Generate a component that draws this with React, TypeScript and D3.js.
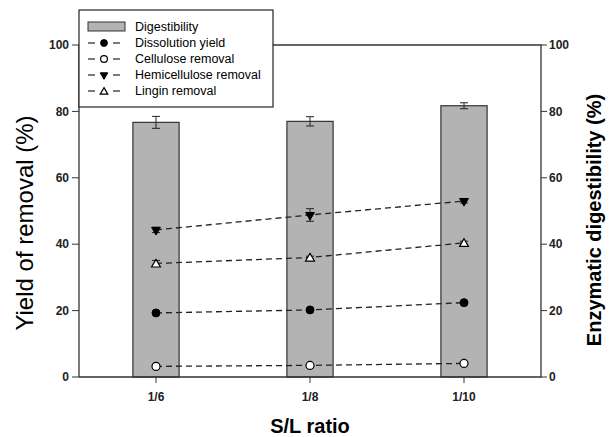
import * as d3 from 'd3';

const ratios = ['1/6', '1/8', '1/10'];
const digestibility = [76.7, 77.0, 81.7];
const digestibilityErr = [1.8, 1.4, 0.9];
const dissolution = [19.3, 20.2, 22.4];
const cellulose = [3.2, 3.5, 4.1];
const hemicellulose = [44.3, 48.8, 53.0];
const hemicelluloseErr = [0.8, 1.9, 0.6];
const lignin = [34.2, 36.0, 40.4];
const ligninErr = [0.9, 0.4, 0.5];
const yTicks = [0, 20, 40, 60, 80, 100];

const font = 'Liberation Sans, Arial, sans-serif';
const ink = '#222';

type Shape = 'dot' | 'circle' | 'down' | 'up';

const Marker = ({ x, y, shape, k = 1 }: { x: number; y: number; shape: Shape; k?: number }) => {
	if (shape === 'dot') return <circle cx={x} cy={y} r={4 * k} fill="#000" stroke="#000" />;
	if (shape === 'circle') return <circle cx={x} cy={y} r={4 * k} fill="#fff" stroke="#000" strokeWidth={1.2} />;
	const s = d3.symbol().type(d3.symbolTriangle).size(34 * k * k)();
	if (shape === 'down') return <path d={s as string} transform={`translate(${x},${y}) rotate(180)`} fill="#000" stroke="#000" />;
	return <path d={s as string} transform={`translate(${x},${y + 1})`} fill="#fff" stroke="#000" strokeWidth={1.2} />;
};

export default function App() {
	const margin = { left: 79, right: 70, top: 45, bottom: 60 };
	const width = 611;
	const height = 437;
	const x = d3.scaleBand().domain(ratios).range([margin.left, width - margin.right]);
	const y = d3.scaleLinear().domain([0, 100]).range([height - margin.bottom, margin.top]);
	const barW = x.bandwidth() * 0.3;
	const cx = (r: string) => (x(r) as number) + x.bandwidth() / 2;

	const series: { name: string; values: number[]; err?: number[]; shape: Shape }[] = [
		{ name: 'Dissolution yield', values: dissolution, shape: 'dot' },
		{ name: 'Cellulose removal', values: cellulose, shape: 'circle' },
		{ name: 'Hemicellulose removal', values: hemicellulose, err: hemicelluloseErr, shape: 'down' },
		{ name: 'Lingin removal', values: lignin, err: ligninErr, shape: 'up' },
	];

	const line = d3
		.line<number>()
		.x((d, i) => cx(ratios[i]))
		.y((d) => y(d));

	const y0 = y(0);
	const x0 = margin.left;
	const x1 = width - margin.right;

	const errBar = (px: number, v: number, e: number, key: string | number) => (
		<g key={key}>
			<line x1={px} x2={px} y1={y(v - e)} y2={y(v + e)} stroke={ink} />
			<line x1={px - 4} x2={px + 4} y1={y(v + e)} y2={y(v + e)} stroke={ink} />
			<line x1={px - 4} x2={px + 4} y1={y(v - e)} y2={y(v - e)} stroke={ink} />
		</g>
	);

	return (
		<svg width={width} height={height} style={{ position: 'absolute', left: 0, top: 0 }} fontFamily={font}>
			{/* bars */}
			{digestibility.map((v, i) => (
				<g key={i}>
					<rect x={cx(ratios[i]) - barW / 2} y={y(v)} width={barW} height={y0 - y(v)} fill="#b3b3b3" stroke="#333" strokeWidth={1.2} />
					{errBar(cx(ratios[i]), v, digestibilityErr[i], 'e')}
				</g>
			))}

			{/* lines */}
			{series.map((s) => (
				<g key={s.name}>
					<path d={line(s.values) as string} fill="none" stroke={ink} strokeWidth={1.3} strokeDasharray="6,4" />
					{s.err && s.values.map((v, i) => errBar(cx(ratios[i]), v, s.err![i], i))}
					{s.values.map((v, i) => (
						<Marker key={i} x={cx(ratios[i])} y={y(v)} shape={s.shape} />
					))}
				</g>
			))}

			{/* frame */}
			<path d={`M${x0},${y0}V${margin.top}H${x1}V${y0}H${x0}`} fill="none" stroke="#333" strokeWidth={1.3} />

			{/* left axis */}
			{yTicks.map((t) => (
				<g key={'l' + t}>
					<line x1={x0 - 7} x2={x0} y1={y(t)} y2={y(t)} stroke="#333" />
					<text x={x0 - 10} y={y(t)} dy="0.35em" textAnchor="end" fontSize={12} fontWeight="bold" fill={ink}>
						{t}
					</text>
				</g>
			))}
			{/* right axis */}
			{yTicks.map((t) => (
				<g key={'r' + t}>
					<line x1={x1} x2={x1 + 6} y1={y(t)} y2={y(t)} stroke="#333" />
					<text x={x1 + 8} y={y(t)} dy="0.35em" textAnchor="start" fontSize={12} fontWeight="bold" fill={ink}>
						{t}
					</text>
				</g>
			))}
			{/* x axis */}
			{ratios.map((r) => (
				<g key={r}>
					<line x1={cx(r)} x2={cx(r)} y1={y0} y2={y0 + 6} stroke="#333" />
					<text x={cx(r)} y={y0 + 20} dy="0.35em" textAnchor="middle" fontSize={12} fontWeight="bold" fill={ink}>
						{r}
					</text>
				</g>
			))}

			<text transform={`translate(33,223) rotate(-90)`} textAnchor="middle" fontSize={24} fill="#000">
				Yield of removal (%)
			</text>
			<text transform={`translate(601,220) rotate(-90)`} textAnchor="middle" fontSize={20} fontWeight="bold" fill="#000">
				Enzymatic digestibility (%)
			</text>
			<text x={310} y={433} textAnchor="middle" fontSize={20} fontWeight="bold" fill="#000">
				S/L ratio
			</text>

			{/* legend */}
			<g>
				<rect x={79} y={10} width={194} height={97} fill="#fff" stroke="#222" strokeWidth={1.2} />
				<rect x={88} y={22} width={37} height={9} fill="#b3b3b3" stroke="#333" />
				<text x={135} y={27} dy="0.35em" fontSize={12.5} fill="#000">
					Digestibility
				</text>
				{series.map((s, i) => {
					const ly = 43 + i * 16;
					return (
						<g key={s.name}>
							<line x1={88} x2={95} y1={ly} y2={ly} stroke={ink} strokeWidth={1.2} />
							<line x1={113} x2={120} y1={ly} y2={ly} stroke={ink} strokeWidth={1.2} />
							<Marker x={104} y={ly} shape={s.shape} k={0.85} />
							<text x={135} y={ly} dy="0.35em" fontSize={12.5} fill="#000">
								{s.name}
							</text>
						</g>
					);
				})}
			</g>
		</svg>
	);
}
